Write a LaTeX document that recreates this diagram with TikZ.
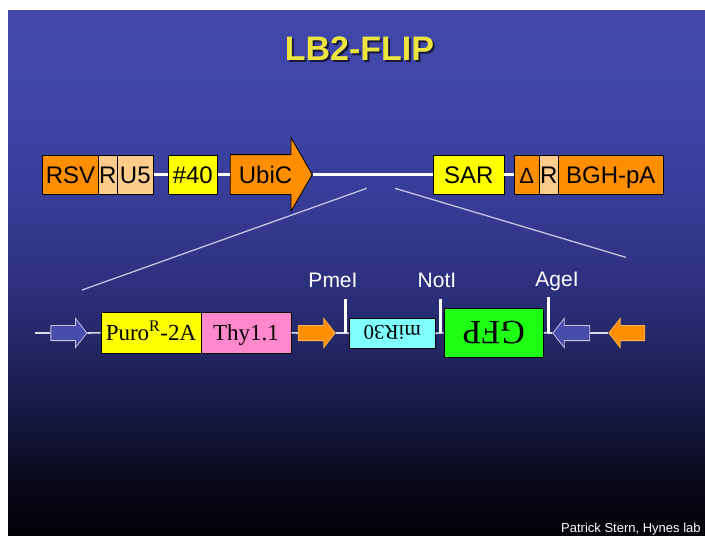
\documentclass[tikz,border=0pt]{standalone}
\usepackage{fontspec}
\setmainfont{Liberation Sans}
\newfontfamily\serifft{Liberation Serif}
\usetikzlibrary{shapes.arrows}

\definecolor{orgA}{RGB}{255,142,0}
\definecolor{orgL}{RGB}{255,204,140}
\definecolor{ylw}{RGB}{255,255,0}
\definecolor{pinkT}{RGB}{255,136,204}
\definecolor{cyanM}{RGB}{128,255,255}
\definecolor{grnG}{RGB}{30,255,20}
\definecolor{bluA}{RGB}{72,76,170}
\definecolor{bluE}{RGB}{195,195,230}
\definecolor{titleY}{RGB}{236,228,64}
\definecolor{titleS}{RGB}{25,25,60}
\definecolor{wireC}{RGB}{215,215,232}

\pgfdeclareverticalshading{slidebg}{100bp}{rgb(0bp)=(.008,.008,.031); rgb(25bp)=(.008,.008,.031);
  rgb(30.3bp)=(.031,.031,.098); rgb(37.9bp)=(.098,.11,.294); rgb(47.4bp)=(.165,.18,.47);
  rgb(56.9bp)=(.216,.235,.588); rgb(66.4bp)=(.247,.275,.659); rgb(75bp)=(.255,.282,.667);
  rgb(100bp)=(.255,.282,.667)}

\begin{document}
\begin{tikzpicture}[x=1pt,y=-1pt,
  part/.style={draw=black,line width=0.8pt,inner sep=0pt,minimum height=39pt,
    text height=17pt,text depth=0pt,font=\fontsize{24}{24}\selectfont},
  fpart/.style={draw=black,line width=0.8pt,inner sep=0pt,
    text height=15pt,text depth=0pt,font=\serifft\fontsize{23}{23}\selectfont},
  flow/.style={single arrow,draw,line width=0.8pt,inner xsep=0pt,
    single arrow head indent=0pt},
  lox/.style={flow,inner ysep=7.2pt,minimum height=36pt,
    single arrow head extend=7pt,single arrow tip angle=104},
  wire/.style={draw=white,line width=3.5pt},
  thin/.style={draw=wireC,line width=1.6pt},
  site/.style={draw=white,line width=3pt},
  sitelbl/.style={anchor=base,inner sep=0pt,text=white,font=\fontsize{21}{21}\selectfont}]
  \useasboundingbox (0,0) rectangle (705,536);
  \fill[white] (0,0) rectangle (705,536);
  \shade[shading=slidebg] (8,10) rectangle (705,536);
  % title with its shadow
  \node[anchor=base,inner sep=0pt,text=titleS,font=\bfseries\fontsize{34}{34}\selectfont]
    (titleshadow) at (361.5,62) {LB2-FLIP};
  \node[anchor=base,inner sep=0pt,text=titleY,font=\bfseries\fontsize{34}{34}\selectfont]
    (title) at (359.5,60) {LB2-FLIP};
  % vector backbone
  \node[part,fill=orgA,minimum width=55.6pt] (rsv) at (70.5,174.5) {RSV};
  \node[part,fill=orgL,minimum width=19pt] (r1) at (107.8,174.5) {R};
  \node[part,fill=orgL,minimum width=36pt] (u5) at (135.3,174.5) {U5};
  \node[part,fill=ylw,minimum width=49pt] (n40) at (192.8,174.5) {\#40};
  \node[flow,fill=orgA,font=\fontsize{24}{24}\selectfont,text height=17pt,text depth=0pt,
    inner ysep=11pt,minimum height=82pt,single arrow head extend=17pt,
    single arrow tip angle=120] (ubic) at (265.5,174.5) {UbiC};
  \node[part,fill=ylw,minimum width=70.7pt] (sar) at (468.7,174.5) {SAR};
  \node[part,fill=orgA,minimum width=24.7pt,font=\fontsize{22}{22}\selectfont] (delta) at (526.7,174.5) {Δ};
  \node[part,fill=orgL,minimum width=19.3pt] (r2) at (548.7,174.5) {R};
  \node[part,fill=orgA,minimum width=105pt] (bgh) at (610.8,174.5) {BGH-pA};
  \draw[wire] (u5.east) -- (n40.west);
  \draw[wire] (n40.east) -- (ubic.tail);
  \draw[wire] (ubic.tip) -- (sar.west);
  \draw[wire] (sar.east) -- (delta.west);
  % zoom lines to the insert
  \coordinate (zl) at (366.7,188.3);
  \coordinate (zl2) at (82,290);
  \coordinate (zr) at (395,188.3);
  \coordinate (zr2) at (625.7,257.3);
  \draw[draw=bluE,line width=1.3pt] (zl) -- (zl2);
  \draw[draw=bluE,line width=1.3pt] (zr) -- (zr2);
  % insert
  \node[lox,fill=bluA,draw=bluE] (lox1) at (65.9,333) {};
  \node[fpart,fill=ylw,minimum width=100pt,minimum height=41pt] (puro) at (151,332.8) {Puro\textsuperscript{R}-2A};
  \node[fpart,fill=pinkT,minimum width=90pt,minimum height=41pt] (thy) at (246,332.8) {Thy1.1};
  \node[lox,fill=orgA,draw=orgA!70!white,minimum height=37pt] (frt1) at (313.7,333) {};
  \node[fpart,fill=cyanM,minimum width=85.7pt,minimum height=30pt,rotate=180,
    font=\serifft\fontsize{21}{21}\selectfont] (mir) at (392.2,333.3) {miR30};
  \node[fpart,fill=grnG,minimum width=99.3pt,minimum height=49pt,rotate=180,
    text height=22pt,font=\serifft\fontsize{34}{34}\selectfont] (gfp) at (493.7,332.8) {GFP};
  \node[lox,fill=bluA,draw=bluE,shape border rotate=180,minimum height=37pt] (lox2) at (574.3,333) {};
  \node[lox,fill=orgA,draw=orgA!70!white,shape border rotate=180] (frt2) at (629.8,333) {};
  \coordinate (lend) at (35,333);
  \coordinate (pme) at (345,333);
  \coordinate (not) at (440,333);
  \coordinate (age) at (548.3,333);
  \draw[thin] (lend) -- (lox1.tail);
  \draw[thin] (lox1.tip) -- (puro.west);
  \draw[thin] (thy.east) -- (frt1.tail);
  \draw[thin] (frt1.tip) -- (pme) -- (mir.east);
  \draw[thin] (mir.west) -- (not) -- (gfp.east);
  \draw[thin] (gfp.west) -- (age) -- (lox2.tip);
  \draw[thin] (lox2.tail) -- (frt2.tip);
  % restriction sites
  \draw[site] (pme) -- ++(0,-34);
  \draw[site] (not) -- ++(0,-34);
  \draw[site] (age) -- ++(0,-36.5);
  \node[sitelbl] (pmelbl) at (333,287.5) {PmeI};
  \node[sitelbl] (notlbl) at (437,287.5) {NotI};
  \node[sitelbl] (agelbl) at (557,286.7) {AgeI};
  \node[anchor=base west,inner sep=0pt,text=white,font=\fontsize{13}{13}\selectfont]
    (credit) at (561,532.7) {Patrick Stern, Hynes lab};
\end{tikzpicture}
\end{document}
